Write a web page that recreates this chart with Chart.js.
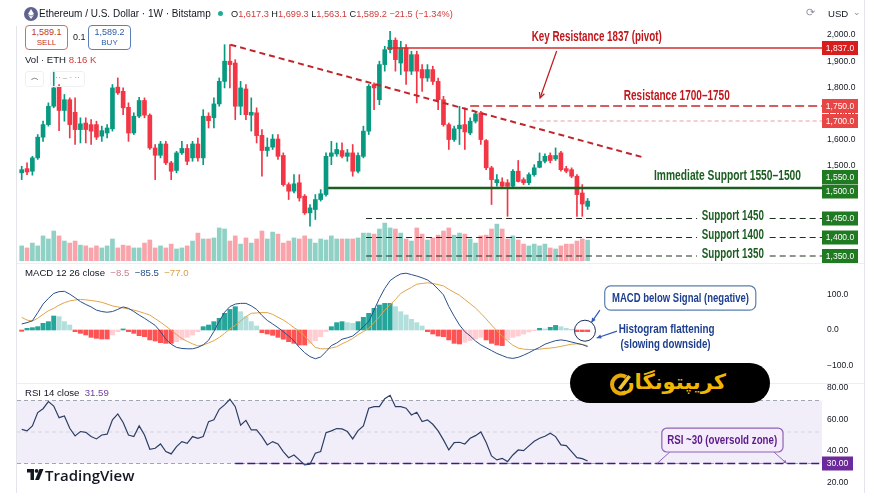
<!DOCTYPE html>
<html>
<head>
<meta charset="utf-8">
<script src="https://cdn.jsdelivr.net/npm/chart.js"></script>
<style>
  body { margin: 0; width: 877px; height: 493px; overflow: hidden; position: relative; background: #fff;
         font-family: "Liberation Sans", Arial, sans-serif; color: #131722; }
  canvas { position: absolute; left: 0; }
  .abs { position: absolute; white-space: nowrap; line-height: 12px; }
  .red { color: #d03b3b; }
  .btn { position: absolute; width: 41px; height: 22px; border-radius: 4px; background: #fff; text-align: center;
         font-size: 9px; line-height: 10px; padding-top: 1px; }
</style>
</head>
<body>
<canvas id="price" width="877" height="263" style="top:0"></canvas>
<canvas id="macd" width="877" height="120" style="top:263px"></canvas>
<canvas id="rsi" width="877" height="110" style="top:383px"></canvas>

<!-- frame -->
<div class="abs" style="left:16px;top:26px;width:1px;height:467px;background:#e3e5ea"></div>
<div class="abs" style="left:864px;top:0;width:1px;height:493px;background:#e3e5ea"></div>
<div class="abs" style="left:17px;top:263px;width:847px;height:1px;background:#eceef2"></div>
<div class="abs" style="left:17px;top:383px;width:847px;height:1px;background:#eceef2"></div>

<!-- header -->
<svg class="abs" style="left:24px;top:7px" width="14" height="14">
  <circle cx="7" cy="7" r="7" fill="#5f6390"/>
  <path d="M7 2 L10 7 L7 8.7 L4 7 Z M7 9.5 L10 7.8 L7 12 L4 7.8 Z" fill="#fff"/>
</svg>
<div class="abs" style="left:39px;top:8px;font-size:10px">Ethereum / U.S. Dollar · 1W · Bitstamp</div>
<div class="abs" style="left:218px;top:11px;width:5px;height:5px;border-radius:50%;background:#22ab94"></div>
<div class="abs" id="ohlc" style="left:231px;top:8px;font-size:9.2px"></div>
<div class="abs" style="left:806px;top:6px;font-size:11px;color:#8a8f9c">⟳</div>
<div class="abs" style="left:828px;top:8px;font-size:9.6px">USD</div>
<div class="abs" style="left:853px;top:6px;font-size:9px;color:#8a8f9c">⌄</div>

<div class="btn" style="left:25px;top:25px;border:1px solid #c97070;color:#c0392b">1,589.1<br><span style="font-size:8px">SELL</span></div>
<div class="abs" style="left:73px;top:31px;font-size:9px">0.1</div>
<div class="btn" style="left:88px;top:25px;border:1px solid #5a80b5;color:#2f5da8">1,589.2<br><span style="font-size:8px">BUY</span></div>
<div class="abs" style="left:25px;top:54px;font-size:9.6px">Vol · ETH <span class="red" id="volLast"></span></div>
<div class="abs" style="left:25px;top:71px;width:17px;height:14px;border:1px solid #eef0f3;border-radius:3px;font-size:8px;text-align:center;color:#333">︿</div>
<div class="abs" style="left:50px;top:71px;width:33px;height:14px;border:1px solid #eef0f3;border-radius:3px;font-size:8px;text-align:center;color:#999">·· – · ··</div>

<div class="abs" id="macdHead" style="left:25px;top:267px;font-size:9.6px"></div>
<div class="abs" id="rsiHead" style="left:25px;top:387px;font-size:9.6px"></div>

<!-- watermark -->
<div class="abs" style="left:570px;top:363px;width:200px;height:40px;border-radius:20px;background:#000"></div>
<svg class="abs" style="left:609px;top:371px" width="24" height="26">
  <path d="M17 6 A9 9 0 1 0 17 21" fill="none" stroke="#e8a90c" stroke-width="4"/>
  <path d="M9 17 L19 4 L22 6 L12 19 Z" fill="#f4c430"/>
</svg>
<div class="abs" dir="rtl" style="left:634px;top:370px;width:92px;text-align:center;font:bold 21px 'DejaVu Sans', sans-serif;line-height:24px;color:#f2b705">کریپتونگار</div>

<!-- TradingView -->
<svg class="abs" style="left:27px;top:469px" width="17" height="12">
  <path d="M0 0 H7 V11 H3.5 V3.5 H0 Z" fill="#131722"/>
  <circle cx="9.6" cy="1.9" r="1.9" fill="#131722"/>
  <path d="M12.5 0 H16.5 L12 11 H8 Z" fill="#131722"/>
</svg>
<div class="abs" style="left:45px;top:467px;font:600 15px 'Open Sans', sans-serif;line-height:16px;color:#131722">TradingView</div>

<script>
// ---------- data ----------
const opens = [1474,1490,1480,1531,1610,1658,1728,1801,1712,1753,1705,1639,1664,1658,1658,1614,1626,1642,1801,1785,
  1724,1626,1690,1750,1694,1569,1541,1584,1512,1483,1550,1567,1531,1584,1531,1690,1684,1737,1823,1900,
  1893,1728,1794,1694,1703,1617,1559,1572,1603,1540,1429,1404,1436,1385,1321,1334,1372,1391,1537,1546,
  1559,1537,1550,1480,1537,1633,1811,1753,1887,1944,1980,1893,1951,1862,1925,1868,1836,1868,1823,1753,
  1658,1601,1642,1658,1626,1671,1703,1597,1493,1436,1439,1436,1423,1480,1448,1436,1467,1495,1518,1540,
  1527,1550,1490,1486,1461,1397,1346];
const highs = [1499,1512,1537,1620,1671,1741,1862,1811,1773,1760,1760,1684,1684,1677,1671,1652,1658,1811,1836,1798,
  1741,1703,1762,1760,1699,1582,1594,1594,1518,1556,1594,1582,1594,1607,1715,1703,1760,1836,1963,1963,
  1906,1823,1811,1760,1722,1639,1607,1620,1620,1550,1436,1467,1467,1391,1353,1391,1410,1550,1594,1588,
  1588,1563,1582,1550,1652,1811,1817,1900,1957,2014,1989,1976,1963,1938,1938,1887,1887,1881,1836,1766,
  1664,1652,1728,1722,1684,1709,1709,1601,1499,1467,1455,1448,1486,1521,1455,1474,1505,1550,1546,1550,
  1569,1556,1499,1493,1467,1429,1376];
const lows = [1448,1467,1465,1525,1594,1652,1722,1635,1671,1607,1582,1588,1588,1582,1601,1594,1607,1633,1773,1696,
  1594,1620,1684,1684,1563,1448,1531,1505,1448,1474,1544,1505,1518,1518,1505,1645,1645,1728,1798,1798,
  1677,1696,1677,1633,1588,1461,1537,1563,1525,1423,1372,1397,1366,1315,1270,1296,1366,1385,1505,1537,
  1531,1518,1461,1474,1531,1620,1715,1734,1862,1932,1862,1849,1811,1849,1741,1785,1823,1811,1715,1652,
  1563,1594,1582,1563,1620,1664,1582,1486,1353,1423,1416,1308,1416,1439,1429,1429,1461,1493,1512,1512,
  1521,1480,1474,1455,1308,1308,1334];
const closes = [1486,1477,1531,1610,1658,1728,1798,1712,1753,1658,1639,1661,1639,1633,1610,1635,1645,1798,1779,1722,
  1626,1690,1750,1694,1569,1541,1584,1512,1480,1550,1567,1518,1584,1531,1690,1673,1737,1823,1900,1887,
  1728,1798,1696,1705,1616,1559,1572,1603,1537,1429,1404,1432,1378,1321,1340,1372,1394,1537,1550,1563,
  1537,1550,1480,1540,1633,1804,1798,1887,1944,1980,1906,1951,1862,1925,1862,1836,1868,1823,1753,1658,
  1601,1642,1656,1630,1671,1699,1601,1493,1448,1448,1423,1423,1480,1441,1436,1467,1493,1518,1537,1521,
  1540,1486,1480,1461,1391,1355,1366];
const volumes = [5.9,5.1,7.0,5.9,9.8,8.6,11.7,9.8,7.8,7.0,7.8,6.2,5.9,5.1,5.9,5.1,5.9,8.6,5.1,6.2,
  5.9,5.1,5.1,7.0,8.2,5.1,5.9,5.1,6.6,4.7,5.1,5.9,7.8,10.9,8.6,8.6,9.0,12.9,12.5,7.8,
  9.8,6.6,9.0,7.0,8.6,11.7,8.6,11.3,10.5,7.0,7.8,9.0,8.6,9.8,8.6,7.0,8.6,8.2,9.8,8.6,
  8.6,8.6,8.6,9.0,10.9,10.9,10.5,12.5,14.8,12.9,12.5,10.9,8.6,7.8,12.9,10.5,8.2,9.0,10.1,11.7,
  12.9,10.1,10.9,10.5,8.6,7.0,9.8,10.1,12.5,14.4,12.5,8.6,9.8,8.2,6.6,5.9,6.6,5.9,6.6,5.1,
  4.7,5.9,6.6,6.6,7.8,8.6,8.16];
const macdLine = [17,20.7,26,48.8,73,89,103,108,109,101,91,80,72,65,56,52,50,52,58,65,
  61,52,42,33,23,13,-4.7,-26,-40,-49,-52,-53,-53,-49,-42,-29,-4,24.5,50,66,
  73,75,75,68,58,41,27,17,6.6,-4.7,-17,-31,-49,-64,-75,-81,-76,-61,-44,-36.6,
  -26,-22,-17,-4.7,9.4,23.5,56,89,117,139,150,158,160,156,152,147,141,130,115,99,
  66,39,14,-4.7,-17,-31,-42,-50,-58,-66,-72,-78,-80,-77,-71,-64,-56,-49,-40,-35,
  -30,-28,-30,-34,-37.6,-41,-47];
const signalLine = [35.7,28,25,33,44,54,61,70,77,82,84.5,86,85,83,81,78,73,68,65,62,
  59,56,52,47,42,32,22,11,-0.9,-13,-24,-32,-39,-45,-42,-36.6,-30,-21,-9.4,2.8,
  13,25,37.6,47,48,49,49,44,36,28,18,6.6,-2.8,-17,-33,-49,-53,-53,-50.7,-47,
  -39,-32,-24,-13,-4.7,4.7,21,37.6,56,71,86,103,112,120,129,131,133,131,128,124,
  114.6,106,98,86,74,62,47,31,14,-2,-17,-31,-43,-51,-54,-55,-55,-54,-52,-51,
  -49,-46,-43,-40,-39,-41,-44];
const histogram = [-3.8,4.7,6.6,9.4,18.8,23.5,39.4,37.6,23.5,14.1,-4.7,-9.4,-14,-20.7,-23.5,-25.4,-25.4,-14,-4.7,3,
  -4.7,-9.4,-16,-18.8,-28,-31,-35.7,-37.6,-37.6,-32.9,-28,-20.7,-14,-4.7,9.4,14,23.5,33,47,58,
  65.7,51.6,37.6,23.5,11.3,-7.5,-11.3,-15,-20.7,-26,-33,-37.6,-42.3,-42.3,-37.6,-30,-18.8,-4.7,9.4,20.7,
  23.5,20.7,18.8,23.5,35.7,47,61,70.4,75,75,65.7,51.6,42.3,30,20.7,11.3,-4.7,-11.3,-17,-18.8,
  -28,-37.6,-39.4,-34.7,-30,-25.4,-20.7,-28,-37.6,-42.3,-44,-28,-20.7,-17,-11.3,-5.6,-1.9,4.7,2.8,7.5,
  13,9.4,4.7,1.9,-4.7,-4.7,-4.7];
const rsiLine = [51.7,50.7,53.9,62.3,64.8,69.3,66.5,59.1,60.2,52.4,47.5,50.3,49.8,47.1,45.6,48.1,48.6,57.7,61.5,56,
  48.1,47.1,53.9,48.1,39,39.7,42.4,37.6,36.1,40.7,43.9,42.8,47.1,46,47.1,56.6,57.7,64.4,67.2,70.8,
  66.1,54.3,57.4,51.3,51.3,47.1,41.8,43.9,42.4,37.6,33.7,35.4,32.3,29.1,29.5,36.5,37.6,49.6,50.7,52.2,
  52,50.3,45.6,50.9,53.9,65.1,66.1,66.1,71.2,73.3,66.1,66.1,65.1,60.8,62.5,56.6,57.7,54.9,50.7,45,
  38.6,43.3,43.5,42.4,46,47.7,50,43.3,34.8,32.3,33.3,31.2,35.4,38.6,38.2,41.2,44.1,46,47.3,49.2,
  47.1,41.8,41.4,37.6,33.7,33.1,31.6];

const priceTicks = [2000, 1900, 1800, 1700, 1600, 1500];
const macdTicks = [100, 0, -100];
const rsiTicks = [80, 60, 40, 20];
const rsiGuides = [70, 50, 30];
const resistanceLevels = [1837, 1750, 1700];
const supportLevels = [1550, 1500, 1450, 1400, 1350];
const trendFrom = [39.1, 1963], trendTo = [116.2, 1534];
const ohlcHead = ['1,617.3', '1,699.3', '1,563.1', '1,589.2', '−21.5 (−1.34%)'];
const macdHead = ['−8.5', '−85.5', '−77.0'];
const rsiLast = 31.59;

// ---------- helpers ----------
const FAM = '"Liberation Sans", Arial, sans-serif';
const NARROW = '"Liberation Sans Narrow", "Liberation Sans", Arial, sans-serif';
const fmt = (v, d) => v.toLocaleString('en-US', {minimumFractionDigits: d, maximumFractionDigits: d}).replace('-', '−');

function fitText(ctx, txt, cx, cy, w, font, color) {
  ctx.save();
  ctx.font = font; ctx.fillStyle = color; ctx.textAlign = 'center'; ctx.textBaseline = 'middle';
  const s = w / ctx.measureText(txt).width;
  ctx.translate(cx, cy); ctx.scale(s, 1); ctx.fillText(txt, 0, 0);
  ctx.restore();
}
function arrow(ctx, x1, y1, x2, y2, color, w, head, open) {
  ctx.save();
  ctx.strokeStyle = color; ctx.fillStyle = color; ctx.lineWidth = w;
  ctx.beginPath(); ctx.moveTo(x1, y1); ctx.lineTo(x2, y2); ctx.stroke();
  const a = Math.atan2(y2 - y1, x2 - x1);
  ctx.beginPath();
  ctx.moveTo(x2 - head * Math.cos(a - 0.45), y2 - head * Math.sin(a - 0.45));
  ctx.lineTo(x2, y2);
  ctx.lineTo(x2 - head * Math.cos(a + 0.45), y2 - head * Math.sin(a + 0.45));
  if (open) ctx.stroke(); else { ctx.closePath(); ctx.fill(); }
  ctx.restore();
}
function roundBox(ctx, l, t, r, b, rad, fill, stroke) {
  ctx.save();
  ctx.beginPath(); ctx.roundRect(l, t, r - l, b - t, rad);
  ctx.fillStyle = fill; ctx.fill();
  ctx.strokeStyle = stroke; ctx.lineWidth = 1.2; ctx.stroke();
  ctx.restore();
}
function axisBox(ctx, top, txt, fill, w) {
  ctx.save();
  ctx.fillStyle = fill; ctx.fillRect(822, top, w, 14);
  ctx.fillStyle = '#fff'; ctx.font = '8.5px ' + FAM; ctx.textAlign = 'center'; ctx.textBaseline = 'middle';
  ctx.fillText(txt, 822 + w / 2, top + 7.5);
  ctx.restore();
}
function hline(axis, y, x0, x1, color, width, dash, gap, order) {
  const pts = gap
    ? [{x: x0, y}, {x: gap[0], y}, {x: (gap[0] + gap[1]) / 2, y: null}, {x: gap[1], y}, {x: x1, y}]
    : [{x: x0, y}, {x: x1, y}];
  return {type: 'line', yAxisID: axis, data: pts, borderColor: color, borderWidth: width,
          borderDash: dash || [], pointRadius: 0, order: order === undefined ? 1 : order, spanGaps: false};
}
// right-hand price labels, placed through the panel's own y scale
const tickLabels = (values, dec, dy) => ({
  id: 'tickLabels',
  afterDatasetsDraw(chart) {
    const {ctx, chartArea: a, scales: {y}} = chart;
    ctx.save();
    ctx.fillStyle = '#131722'; ctx.font = '8.5px ' + FAM; ctx.textAlign = 'left'; ctx.textBaseline = 'middle';
    values.forEach(v => ctx.fillText(fmt(v, dec), a.right + 5, y.getPixelForValue(v) + (dy || 0)));
    ctx.restore();
  }
});

// piecewise scale for the drawn levels (the annotations do not follow the price axis)
class LevelScale extends Chart.LinearScale {
  getPixelForValue(value) {
    const k = this.options.knots;
    let i = 0;
    while (i < k.length - 2 && value < k[i + 1][0]) i++;
    const [v0, f0] = k[i], [v1, f1] = k[i + 1];
    const f = f0 + (value - v0) * (f1 - f0) / (v1 - v0);
    return this.top + f * (this.bottom - this.top);
  }
}
LevelScale.id = 'levelScale';
LevelScale.defaults = Chart.LinearScale.defaults;
Chart.register(LevelScale);

Chart.defaults.font.family = FAM;
const xMin = -0.88, xMax = 149.9;
const xScale = {type: 'linear', min: xMin, max: xMax, display: false, offset: false};
const common = {responsive: false, animation: false, events: [],
  plugins: {legend: {display: false}, tooltip: {enabled: false}},
  datasets: {bar: {grouped: false}}};

// header texts
document.getElementById('ohlc').innerHTML =
  ['O', 'H', 'L', 'C'].map((k, i) => k + '<span class="red">' + ohlcHead[i] + '</span>').join(' ') +
  ' <span class="red">' + ohlcHead[4] + '</span>';
document.getElementById('volLast').textContent = fmt(volumes[volumes.length - 1], 2) + ' K';
document.getElementById('macdHead').innerHTML = 'MACD 12 26 close&nbsp; <span style="color:#c98090">' + macdHead[0] +
  '</span>&nbsp; <span style="color:#2b4f8a">' + macdHead[1] + '</span>&nbsp; <span style="color:#d9a04a">' + macdHead[2] + '</span>';
document.getElementById('rsiHead').innerHTML = 'RSI 14 close&nbsp; <span style="color:#6b3fa0">' + rsiLast.toFixed(2) + '</span>';

// ---------- price panel ----------
const UP = '#089981', DN = '#f23645';
const up = closes.map((c, i) => c >= opens[i]);
const supGap = [126.5, 140.1];

const priceNotes = {
  id: 'priceNotes',
  afterDraw(chart) {
    const {ctx, scales: {x, lv}} = chart;
    const X = v => x.getPixelForValue(v), L = v => lv.getPixelForValue(v);
    fitText(ctx, 'Key Resistance 1837 (pivot)', X(107.7), L(1837) - 11, 130, 'bold 15px ' + NARROW, '#c0171c');
    arrow(ctx, X(100.2), L(1837) + 3, X(97.1), L(1750) - 8, '#c0171c', 1.2, 6, true);
    fitText(ctx, 'Resistance 1700–1750', X(122.7), L(1750) - 10, 106, 'bold 15px ' + NARROW, '#c0171c');
    fitText(ctx, 'Immediate Support 1550–1500', X(132.2), L(1500) - 12, 147, 'bold 15px ' + NARROW, '#1b5e20');
    [1450, 1400, 1350].forEach(v =>
      fitText(ctx, 'Support ' + v, X(133.2), L(v) - 2, 62, 'bold 14px ' + NARROW, '#1b5e20'));
    let last = -1e9;
    [...resistanceLevels, ...supportLevels].sort((a, b) => b - a).forEach(v => {
      const top = Math.max(L(v) - 7, last + 0.5);
      axisBox(ctx, top, fmt(v, 1), resistanceLevels.includes(v) ? (v === 1837 ? '#d91c1c' : '#e84545') : '#1f7a22', 36);
      last = top + 14;
    });
  }
};

new Chart(document.getElementById('price'), {
  type: 'bar',
  data: {datasets: [
    {data: volumes.map((v, i) => ({x: i, y: v})), yAxisID: 'yv', barThickness: 4, order: 10,
     backgroundColor: up.map(u => u ? 'rgba(8,153,129,0.45)' : 'rgba(242,54,69,0.45)')},
    {data: highs.map((h, i) => ({x: i, y: [lows[i], h]})), barThickness: 1, order: 8,
     backgroundColor: up.map(u => u ? UP : DN)},
    {data: opens.map((o, i) => ({x: i, y: [o, closes[i]]})), barThickness: 4, minBarLength: 1, order: 7,
     backgroundColor: up.map(u => u ? UP : DN)},
    {type: 'line', data: [{x: trendFrom[0], y: trendFrom[1]}, {x: trendTo[0], y: trendTo[1]}],
     borderColor: '#c0262b', borderWidth: 2, borderDash: [6, 4], pointRadius: 0, order: 1},
    hline('lv', 1837, 68.4, xMax, '#d32f2f', 1.5),
    hline('lv', 1750, 84, xMax, '#c62828', 1.5, [9, 4]),
    hline('lv', 1700, 95.7, xMax, '#e8a0a0', 1, [4, 3]),
    hline('lv', 1500, 57.4, xMax, '#1b5e20', 2.5),
    hline('lv', 1450, 64.5, xMax, '#1f2f1f', 1.2, [6, 4], supGap),
    hline('lv', 1400, 64.5, xMax, '#1f2f1f', 1.2, [6, 4], supGap),
    hline('lv', 1350, 64.5, xMax, '#1f2f1f', 1.2, [6, 4], supGap)
  ]},
  options: {...common,
    layout: {padding: {left: 17, top: 28, bottom: 2, right: 55}},
    scales: {
      x: xScale,
      y: {display: false, min: 1137.4, max: 2026.7},
      yv: {display: false, min: 0, max: 91},
      lv: {type: 'levelScale', display: false, min: 1300, max: 1900,
           knots: [[1837, .0858], [1750, .3348], [1700, .3991], [1550, .6395], [1500, .6867],
                   [1450, .8176], [1400, .8991], [1350, .9785]]}
    }},
  plugins: [tickLabels(priceTicks, 1), priceNotes]
});

// ---------- MACD panel ----------
const histColors = histogram.map((v, i) => {
  const p = i ? histogram[i - 1] : 0;
  return v >= 0 ? (v >= p ? '#26a69a' : '#b2dfdb') : (v <= p ? '#ff5252' : '#ffcdd2');
});
const macdNotes = {
  id: 'macdNotes',
  afterDraw(chart) {
    const {ctx, scales: {x, y}} = chart;
    const X = v => x.getPixelForValue(v), Y = v => y.getPixelForValue(v);
    roundBox(ctx, X(109.2), Y(124), X(137.5), Y(56), 6, '#fff', '#5b7fae');
    fitText(ctx, 'MACD below Signal (negative)', X(123.4), Y(90), 137, 'bold 13px ' + NARROW, '#1d3f8f');
    ctx.save(); ctx.strokeStyle = '#1d2f5f'; ctx.lineWidth = 1;
    ctx.beginPath(); ctx.arc(X(105.5), Y(-2), 10.5, 0, Math.PI * 2); ctx.stroke(); ctx.restore();
    arrow(ctx, X(108.3), Y(56), X(106.7), Y(21), '#2e5bb8', 1.2, 5);
    arrow(ctx, X(111.5), Y(-3), X(107.7), Y(-22.5), '#2e5bb8', 1.2, 5);
    fitText(ctx, 'Histogram flattening', X(120.8), Y(2.8), 96, 'bold 13px ' + NARROW, '#1d3f8f');
    fitText(ctx, '(slowing downside)', X(120.6), Y(-42), 90, 'bold 13px ' + NARROW, '#1d3f8f');
  }
};
new Chart(document.getElementById('macd'), {
  type: 'bar',
  data: {datasets: [
    {data: histogram.map((v, i) => ({x: i, y: v})), backgroundColor: histColors, barThickness: 4.3, order: 5},
    {type: 'line', data: macdLine.map((v, i) => ({x: i, y: v})), borderColor: '#2b4f8a', borderWidth: 1, pointRadius: 0, order: 2},
    {type: 'line', data: signalLine.map((v, i) => ({x: i, y: v})), borderColor: '#e0a54a', borderWidth: 1, pointRadius: 0, order: 3}
  ]},
  options: {...common,
    layout: {padding: {left: 17, top: 1, bottom: 1, right: 55}},
    scales: {x: xScale, y: {display: false, min: -146.5, max: 185.9}}},
  plugins: [tickLabels(macdTicks, 1), macdNotes]
});

// ---------- RSI panel ----------
const rsiNotes = {
  id: 'rsiNotes',
  beforeDatasetsDraw(chart) {
    const {ctx, chartArea: a, scales: {y}} = chart;
    ctx.save(); ctx.fillStyle = 'rgba(126,87,194,0.1)';
    ctx.fillRect(a.left, y.getPixelForValue(70), a.right - a.left, y.getPixelForValue(30) - y.getPixelForValue(70));
    ctx.restore();
  },
  afterDraw(chart) {
    const {ctx, scales: {x, y}} = chart;
    const X = v => x.getPixelForValue(v), Y = v => y.getPixelForValue(v);
    ctx.save(); ctx.strokeStyle = '#8e63b5'; ctx.lineWidth = 1;
    ctx.beginPath(); ctx.moveTo(X(121.4), Y(37.3)); ctx.lineTo(X(119), Y(30)); ctx.stroke(); ctx.restore();
    arrow(ctx, X(140.9), Y(37.3), X(143.3), Y(30), '#8e63b5', 1, 4);
    roundBox(ctx, X(119.9), Y(52.5), X(142.6), Y(37.3), 5, '#f4ecfa', '#8e63b5');
    fitText(ctx, 'RSI ~30 (oversold zone)', X(131.2), Y(44.9), 110, 'bold 13px ' + NARROW, '#5a1a8a');
    axisBox(ctx, Y(30) - 7, fmt(30, 2), '#6c2a9b', 31);
  }
};
new Chart(document.getElementById('rsi'), {
  type: 'line',
  data: {datasets: [
    hline('y', rsiGuides[0], xMin, xMax, '#a3a7b3', 1, [4, 3]),
    hline('y', rsiGuides[1], xMin, xMax, '#d5d7de', 1, [4, 3]),
    hline('y', rsiGuides[2], xMin, xMax, '#a3a7b3', 1, [4, 3]),
    hline('y', 30, 40, xMax, '#4a148c', 1.6, [8, 4], null, 0.5),
    {data: rsiLine.map((v, i) => ({x: i, y: v})), borderColor: '#2c3e66', borderWidth: 1.2, pointRadius: 0, order: 0}
  ]},
  options: {...common,
    layout: {padding: {left: 17, top: 1, bottom: 0, right: 55}},
    scales: {x: xScale, y: {display: false, min: 11.27, max: 80.48}}},
  plugins: [tickLabels(rsiTicks, 2, 3), rsiNotes]
});
</script>
</body>
</html>
